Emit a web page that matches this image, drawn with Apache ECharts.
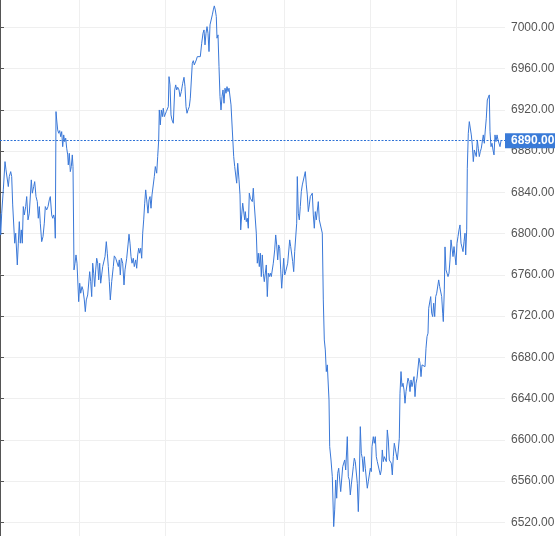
<!DOCTYPE html>
<html><head><meta charset="utf-8">
<script src="https://cdn.jsdelivr.net/npm/echarts@6/dist/echarts.min.js"></script>
<style>
html,body{margin:0;padding:0;width:555px;height:536px;overflow:hidden;background:#fff}
#c{position:absolute;left:0;top:-14px;width:555px;height:578px}
</style>
</head><body><div id="c"></div>
<script>
// x position of each sample, in bar units
const barIndex = [
0,0.7,1.7,3.3,5,6,7.3,8.3,9.3,10.7,11.7,12.7,13.3,14.7,15.7,17.3,18.3,19.3,20.3,21.3,22.3,23.3,24.3,25.7,26.7,28,29.3,30.3,31.3,32.3,33.7,34.7,36,37.3,38.3,39.3,40.3,41.7,43,44.3,45.3,46.7,48,49.3,50.3,51.7,52.7,53.7,54.7,55.3,
56,56.7,57.7,58.7,59.7,60.7,61.7,62.7,63.7,64.7,65.7,66.7,67.7,68.3,69.3,70.3,71.3,72.3,73,74,75,76,77,78,78.7,79.7,80.7,82,83,84.3,85.3,86.3,87.7,88.7,89.7,90.7,91.7,92.7,93.7,94.7,95.7,96.7,97.7,98.7,99.7,100.7,101.7,102.7,104,105,106.3,107.3,108.3,109.3,110.3,
111.7,113.3,114.3,115.7,117,118.3,119.3,120.3,121.3,122.7,124,125,126.7,128,129,130,131,132,133.3,134.3,135.7,136.7,137.7,138.7,139.7,140.7,141.7,142.7,143.7,144.7,145.7,146.7,148,149,150,151,152,153.3,154.3,155.3,156.7,157.7,158.7,159.3,160.3,161.3,162.3,163.3,164.3,165.3,166.3,167.3,168.3,
169,170,171,172,173.3,174.7,175.7,176.7,177.7,179,180,181.3,182.7,184,185,186,187,188,189.3,190.3,191.3,192.3,193.3,194.3,195.3,196.3,197.3,198.3,199.3,200.3,201.7,203,204,205,206,207,208,209,210,211,212.3,213.3,214.3,215.3,216.3,217,218,219,220,221,222,223,224,225,226,227,228,229,230,231,232.3,
233.7,234.7,235.7,236.7,237.7,238.3,239,240,240.7,241.7,242.7,243.7,244.7,245.3,246.3,247.3,248.3,249.3,250.3,251.3,252.3,253.3,254.3,255.3,256.3,257.3,258.3,259.3,260.3,261.3,262.3,263.3,264.3,265.3,266.3,267.3,268.3,269.3,270.3,271.3,272.3,273.3,274.7,275.7,276.7,277.7,278.7,279.7,280.7,281.7,282.7,283.7,284.7,285.7,286.7,287.7,288.7,289.7,290.7,291.7,292.7,293.7,294.7,295.7,296.7,297.3,298.3,299.3,300.3,301.3,302.3,303.3,304.3,305.3,306.3,307.3,308.3,309.3,310.3,311.3,312.3,313.3,314.3,315.3,316.3,317.3,318.3,319.3,320.3,321.3,322.3,323.3,324.3,325.3,326.3,327.3,328.3,329,329.7,331,332.3,333.7,
334.7,335.7,336.7,337.7,338.7,339.7,340.7,341.7,342.7,343.7,344.7,345.7,346.7,347.3,348.3,349.3,350.3,351.3,352.3,353.3,354.3,355.3,356.3,357.3,358.3,359.3,360.3,361.3,362.3,363.3,364.3,365.3,366.3,367.3,368.3,369.3,370.3,371.3,372,373.3,374.3,375.3,376.3,377.3,378.3,379.3,380.3,381.3,382.3,383.3,384.3,385.3,386.3,387.3,388.3,389.3,390.3,391.3,392.3,393.3,394.3,395.3,396.3,397.3,398.3,399.3,
400,401,402,403,404,405,406,407,408,409,410,411,412,413,414,415,416,417,418,419,420,421,422,423,424,425,426,427,428,428.7,429.7,430.7,431.7,432.7,433.7,434.7,435.7,436.7,437.7,438.7,439.7,440.7,441.7,442.7,443.3,444.3,445,
446,447,448,449,450,451,452,453,454,455,456,457,458,459,460,461,462,463,464,465,465.7,466.7,467.3,468.3,469.3,470.3,471.3,472.3,473.3,474.3,475.3,476.3,477.3,478.3,479.3,480.3,481.3,482.3,483.3,484.3,485.3,486.3,487.3,488.3,489.3,490,491,492,493,494,495,496,497,498,499,500,501
];
const price = [
6819.7,6798.6,6819.7,6842.3,6869.7,6861.7,6861,6845.5,6855.2,6860,6855.2,6827.7,6826.7,6790.6,6800.3,6769.5,6790.6,6811.5,6790.6,6803.5,6790.6,6826.1,6818,6826.1,6835.8,6813.2,6819.7,6818,6852,6839.1,6845.5,6850.3,6835.8,6830.9,6814.8,6826.1,6810,6792.1,6797,6810,6826.1,6822.9,6826.1,6832.6,6835.8,6818,6814.8,6818,6813.2,6795.4,
6918.2,6910.1,6900.4,6897.2,6899.8,6893.9,6898.8,6884.2,6895.6,6889.1,6892.4,6882.7,6876.2,6866.5,6877.8,6860,6864.9,6876.2,6864.9,6764.7,6771.2,6779.2,6771.2,6772.7,6733.9,6751.8,6742.1,6748.5,6745.3,6735.6,6724.2,6735.6,6740.4,6738.8,6763,6753.3,6738.8,6771.2,6761.5,6748.5,6764.7,6776,6771.2,6755,6771.2,6751.8,6759.8,6767.9,6769.5,6777.6,6792.1,6780.9,6767.9,6753.3,6735.6,
6753.3,6767.9,6778.3,6776,6777,6767.9,6774.4,6759.8,6776,6771.2,6750.1,6764.7,6776,6788.9,6799.3,6790.6,6777.6,6771.2,6776,6767.9,6774.4,6766.3,6779.2,6785.7,6780.9,6785.7,6776,6800.3,6813.2,6829.4,6842.3,6832.6,6819.7,6832.6,6835.8,6824.5,6837.4,6839.1,6855.2,6864.9,6858.5,6874.6,6890.7,6919.8,6905.3,6919.8,6913.3,6921.5,6913.3,6915,6918.2,6919.8,6923,
6952.1,6944.1,6915,6910.1,6906.9,6939.2,6944.1,6939.2,6941.8,6939.2,6932.7,6937.6,6945.7,6951.5,6942.4,6923,6916.6,6919.8,6923,6931.2,6929.5,6965.1,6967.6,6963.5,6962.5,6968.3,6971.5,6972.2,6970.9,6971.5,6984.5,6994.2,6997.4,6982.9,6994.2,7000.6,6994.2,6976.4,7002.3,7003.9,7012,7016.8,7020.7,7016.8,7010.3,6989.4,6992.6,6961.8,6932.7,6919.8,6932.7,6939.2,6926.3,6940.9,6936,6942.4,6937.6,6940.9,6939.2,6924.7,6900.4,
6874.6,6864.9,6866.5,6848.8,6868.1,6869.7,6852,6837.4,6803.5,6818,6829.4,6829.4,6813.2,6821.2,6811.5,6814.8,6805.1,6839.1,6834.2,6834.2,6830.9,6843.9,6827.7,6829.4,6800.3,6771.2,6780.9,6767.9,6780.9,6758.2,6779.2,6761.5,6753.3,6751.8,6769.5,6738.8,6761.5,6758.2,6761.5,6758.2,6759.8,6771.2,6784.1,6798.6,6788.9,6774.4,6788.9,6785.7,6764.7,6746.9,6761.5,6776,6759.8,6763,6764.7,6771.2,6772.7,6793.8,6787.3,6787.3,6772.7,6763,6782.4,6782.4,6810,6855.2,6819.7,6813.2,6826.1,6840.6,6847.1,6847.1,6848.8,6860,6847.1,6837.4,6821.2,6827.7,6835.8,6837.4,6839.1,6818,6805.1,6821.2,6813.2,6813.2,6830.9,6813.2,6814.8,6814.8,6800.3,6735.6,6696.8,6687.1,6666.1,6672.6,6674.2,6638.6,6593.3,6580.4,6564.2,6515.8,
6532,6561,6543.3,6567.5,6572.4,6572.4,6549.7,6551.3,6573.9,6573.9,6580.4,6570.7,6590.1,6603,6564.2,6561,6546.5,6556.2,6554.6,6573.9,6582.1,6578.8,6580.4,6557.8,6530.3,6561,6612.7,6586.9,6582.1,6569.1,6583.6,6572.4,6570.7,6553,6559.4,6557.8,6572.4,6569.1,6593.3,6603,6596.6,6603,6583.6,6578.8,6578.8,6577.2,6565.9,6570.7,6590.1,6578.8,6583.6,6583.6,6578.8,6609.5,6599.8,6580.4,6578.8,6577.2,6565.9,6583.6,6596.6,6598.2,6596.6,6580.4,6590.1,6601.5,
6645.1,6666.1,6651.5,6654.8,6648.3,6635.4,6646.7,6648.3,6659.7,6656.4,6646.7,6658,6651.5,6653.2,6661.2,6641.8,6654.8,6659.7,6661.2,6679.1,6674.2,6661.2,6672.6,6670.9,6674.2,6670.9,6688.8,6700,6703.3,6727.5,6729.1,6738.8,6722.7,6719.4,6732.4,6719.4,6738.8,6742.1,6743.6,6755,6748.5,6746.9,6738.8,6722.7,6714.6,6745.3,6787,
6764.7,6766.3,6758.2,6761.5,6774.4,6793.8,6795.4,6777.6,6787.3,6787.3,6769.5,6790.6,6797,6803.5,6808.3,6790.6,6790.6,6782.4,6792.1,6800.3,6779.2,6803.5,6863.3,6897.2,6908.5,6906.9,6895.6,6885.9,6869.7,6881,6882.7,6874.6,6890.7,6882.7,6874.6,6879.4,6882.7,6881,6895.6,6887.5,6900.4,6911.8,6929.5,6931.2,6934.4,6898.8,6884.2,6887.5,6881,6876.2,6895.6,6889.1,6895.6,6890.7,6892.4,6884.2,6890
];
const sessionBreaks = [79, 165, 284, 370, 456];
const yMin = 6480, yMax = 7040, yStep = 40;
const xMin = 0, xMax = 505;
const lastPrice = 6890;

const chart = echarts.init(document.getElementById('c'), null, {renderer: 'canvas'});
const FONT = 'Liberation Sans, Arial, sans-serif';
chart.setOption({
  animation: false,
  backgroundColor: '#fff',
  grid: {left: 0, right: 50, top: 0, bottom: 0.5, outerBoundsMode: 'none', containLabel: false},
  xAxis: {
    type: 'value', min: xMin, max: xMax,
    axisLine: {show: false},
    axisTick: {show: false, customValues: sessionBreaks},
    axisLabel: {show: false},
    splitLine: {show: true, lineStyle: {color: '#efefef', width: 1}}
  },
  yAxis: {
    type: 'value', position: 'right', min: yMin, max: yMax, interval: yStep, scale: true,
    axisLine: {show: true, lineStyle: {color: '#555', width: 1}},
    axisTick: {show: true, length: 4, lineStyle: {color: '#555'}},
    axisLabel: {margin: 6, color: '#555', fontSize: 12, fontFamily: FONT, formatter: v => v.toFixed(2)},
    splitLine: {show: true, lineStyle: {color: '#efefef', width: 1}}
  },
  series: [{
    type: 'line',
    data: barIndex.map((t, i) => [t, price[i]]),
    showSymbol: false,
    symbol: 'none',
    lineStyle: {color: '#3a78d8', width: 1},
    itemStyle: {color: '#3a78d8'},
    markLine: {
      silent: true, symbol: ['none', 'none'], animation: false,
      lineStyle: {color: '#2f72d6', type: [2, 1.5], width: 1},
      label: {
        show: true, position: 'end', distance: 0,
        formatter: p => Number(p.value).toFixed(2),
        color: '#fff', backgroundColor: '#3a7bd8', fontWeight: 'bold',
        fontSize: 12, fontFamily: FONT, padding: [2, 5, 1, 6]
      },
      emphasis: {disabled: true},
      data: [{yAxis: lastPrice}]
    }
  }]
});
</script></body></html>
